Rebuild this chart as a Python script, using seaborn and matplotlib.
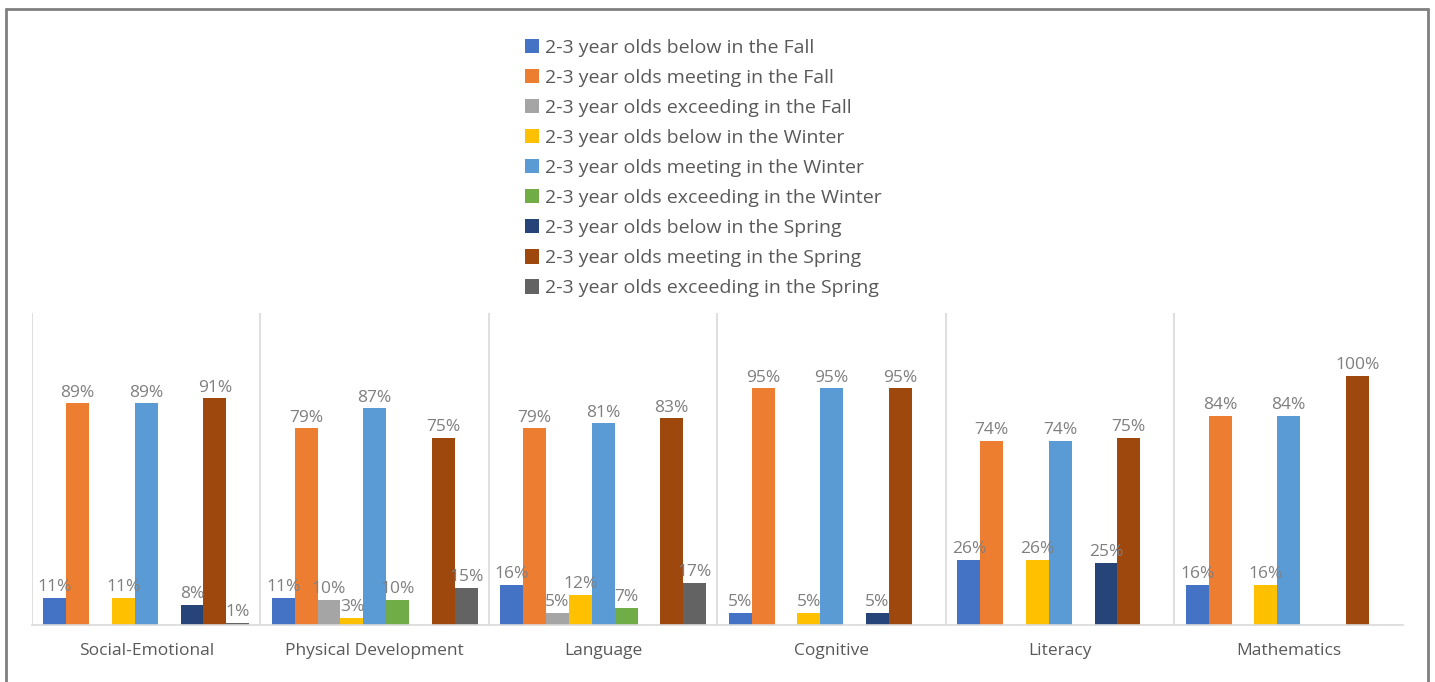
import numpy as np
import pandas as pd
import matplotlib
matplotlib.use("Agg")
import matplotlib.pyplot as plt
from matplotlib.lines import Line2D
from matplotlib.patches import Patch
import seaborn as sns

categories = ["Social-Emotional", "Physical Development", "Language",
              "Cognitive", "Literacy", "Mathematics"]

series = [
    "2-3 year olds below in the Fall",
    "2-3 year olds meeting in the Fall",
    "2-3 year olds exceeding in the Fall",
    "2-3 year olds below in the Winter",
    "2-3 year olds meeting in the Winter",
    "2-3 year olds exceeding in the Winter",
    "2-3 year olds below in the Spring",
    "2-3 year olds meeting in the Spring",
    "2-3 year olds exceeding in the Spring",
]

nan = np.nan
below_fall = [11, 11, 16, 5, 26, 16]
meeting_fall = [89, 79, 79, 95, 74, 84]
exceeding_fall = [nan, 10, 5, nan, nan, nan]
below_winter = [11, 3, 12, 5, 26, 16]
meeting_winter = [89, 87, 81, 95, 74, 84]
exceeding_winter = [nan, 10, 7, nan, nan, nan]
below_spring = [8, nan, nan, 5, 25, nan]
meeting_spring = [91, 75, 83, 95, 75, 100]
exceeding_spring = [1, 15, 17, nan, nan, nan]

values = [below_fall, meeting_fall, exceeding_fall,
          below_winter, meeting_winter, exceeding_winter,
          below_spring, meeting_spring, exceeding_spring]

colors = ["#4472C4", "#ED7D31", "#A5A5A5", "#FFC000", "#5B9BD5",
          "#70AD47", "#264478", "#9E480E", "#636363"]

rows = []
for name, vals in zip(series, values):
    for cat, v in zip(categories, vals):
        if not np.isnan(v):
            rows.append({"category": cat, "series": name, "value": v})
df = pd.DataFrame(rows)

sns.set_theme(style="white")
plt.rcParams["font.family"] = ["Open Sans", "DejaVu Sans"]

W, H = 1435, 682
fig = plt.figure(figsize=(W / 100, H / 100), dpi=100)
fig.patch.set_facecolor("white")

x0, x1 = 32, 1403
y_base, y_top = 625, 313
ax = fig.add_axes([x0 / W, (H - y_base) / H, (x1 - x0) / W, (y_base - y_top) / H])

sns.barplot(data=df, x="category", y="value", hue="series",
            order=categories, hue_order=series, palette=colors,
            width=0.9, saturation=1, errorbar=None, dodge=True,
            linewidth=0, ax=ax, legend=False)

ax.set_xlim(-0.5, len(categories) - 0.5)
ax.set_ylim(0, (y_base - y_top) / 2.49)

label_color = "#595959"
for cont in ax.containers:
    ax.bar_label(cont, fmt="%.0f%%", padding=2, color="#7f7f7f", fontsize=12.5)

for s in ["top", "right", "left"]:
    ax.spines[s].set_visible(False)
ax.spines["bottom"].set_color("#d9d9d9")
ax.spines["bottom"].set_linewidth(1.2)
ax.set_yticks([])
ax.set_xlabel("")
ax.set_ylabel("")
ax.tick_params(axis="x", length=0, pad=13, labelsize=12.5, labelcolor=label_color)

# category separators
for i in range(len(categories)):
    ax.axvline(i - 0.5, color="#d9d9d9", lw=1.2, zorder=0)

# legend
handles = [Patch(facecolor=c, edgecolor="none") for c in colors]
fig.legend(handles, series, loc="upper left",
           bbox_to_anchor=(517 / W, 1 - 31 / H), frameon=False,
           fontsize=14, labelcolor=label_color, handlelength=0.75,
           handleheight=0.75, handletextpad=0.3, labelspacing=0.62,
           borderaxespad=0)

# outer frame
frame_kw = dict(color="#808080", lw=2, transform=fig.transFigure)
fig.add_artist(Line2D([6 / W, 1428 / W], [1 - 9 / H, 1 - 9 / H], **frame_kw))
fig.add_artist(Line2D([6 / W, 6 / W], [0, 1 - 9 / H], **frame_kw))
fig.add_artist(Line2D([1428 / W, 1428 / W], [0, 1 - 9 / H], **frame_kw))

fig.savefig("out.png", dpi=100, facecolor="white")
